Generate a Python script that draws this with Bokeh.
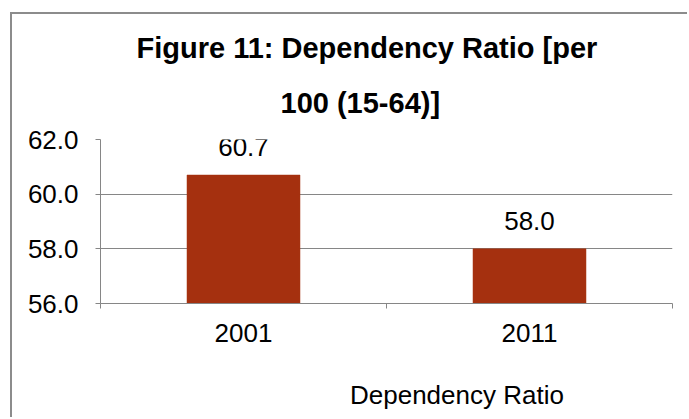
from bokeh.plotting import figure
from bokeh.layouts import column
from bokeh.models import (Range1d, FixedTicker, Legend, LegendItem, Title,
                          ColumnDataSource)
from bokeh.core.properties import value
from bokeh.embed import file_html
from bokeh.resources import INLINE

years = ["2001", "2011"]
ratio = [60.7, 58.0]
y_ticks = [56.0, 58.0, 60.0, 62.0]
series_name = "Dependency Ratio"
title_lines = ["Figure 11: Dependency Ratio [per", "100 (15-64)]"]

FONT = "Liberation Sans"
BAR = "#A5300F"
GRID = "#868686"
TXT = "26px"

centers = [i + 0.5 for i in range(len(years))]
src = ColumnDataSource(dict(x=centers, top=ratio,
                            label=["%.1f" % v for v in ratio]))

# main chart
p = figure(frame_width=572, frame_height=164, output_backend="svg",
           toolbar_location=None,
           x_range=Range1d(0, len(years)), y_range=Range1d(y_ticks[0], y_ticks[-1]),
           min_border_left=88, min_border_right=15, min_border_top=125,
           min_border_bottom=70)
p.outline_line_color = None
p.background_fill_color = "white"
p.border_fill_color = "white"

bars = p.vbar(x="x", top="top", bottom=y_ticks[0], width=0.395, source=src,
              fill_color=BAR, line_color=BAR, line_width=0.5)
p.text(x="x", y="top", text="label", source=src, text_align="center",
       text_baseline="alphabetic", y_offset=-28, text_font_size=TXT,
       text_color="#000000", text_font=value(FONT))

# y axis and grid
p.yaxis.ticker = FixedTicker(ticks=y_ticks, minor_ticks=[])
p.yaxis.major_label_overrides = {t: "%.1f" % t for t in y_ticks}
p.yaxis.axis_line_color = GRID
p.yaxis.major_tick_line_color = GRID
p.yaxis.major_tick_out = 5
p.yaxis.major_tick_in = 0
p.yaxis.minor_tick_line_color = None
p.yaxis.major_label_text_font = FONT
p.yaxis.major_label_text_font_size = TXT
p.yaxis.major_label_text_color = "#000000"
p.yaxis.major_label_standoff = 17
p.ygrid.ticker = FixedTicker(ticks=y_ticks)
p.ygrid.grid_line_color = GRID
p.xgrid.grid_line_color = None

# x axis: labels at category centres, ticks at category boundaries
p.xaxis.ticker = FixedTicker(ticks=centers,
                             minor_ticks=list(range(len(years) + 1)))
p.xaxis.major_label_overrides = {c: y for c, y in zip(centers, years)}
p.xaxis.axis_line_color = GRID
p.xaxis.major_tick_line_color = None
p.xaxis.major_tick_out = 0
p.xaxis.major_tick_in = 0
p.xaxis.minor_tick_line_color = GRID
p.xaxis.minor_tick_out = 5
p.xaxis.minor_tick_in = 0
p.xaxis.major_label_text_font = FONT
p.xaxis.major_label_text_font_size = TXT
p.xaxis.major_label_text_color = "#000000"
p.xaxis.major_label_standoff = 15

# two-line title; the line nearest the frame goes in first
title_offsets = [36, 180]
title_standoffs = [0, 42]
for line, off, so in reversed(list(zip(title_lines, title_offsets, title_standoffs))):
    p.add_layout(Title(text=line, align="left", offset=off, standoff=so,
                       text_font=FONT, text_font_size="29px",
                       text_font_style="bold", text_color="#000000"), "above")

# legend strip under the chart
lg = figure(width=675, height=44, output_backend="svg", toolbar_location=None,
            x_axis_type=None, y_axis_type=None, min_border=0)
lg.outline_line_color = None
lg.background_fill_color = "white"
lg.border_fill_color = "white"
swatch = lg.vbar(x=[], top=[], width=0.4, fill_color=BAR, line_color=BAR)
legend = Legend(items=[LegendItem(label=series_name, renderers=[swatch])],
                location=(229, 6), orientation="horizontal",
                padding=0, margin=0, border_line_color=None,
                background_fill_alpha=0, glyph_width=14, glyph_height=14,
                label_standoff=7, label_text_font=FONT,
                label_text_font_size=TXT, label_text_color="#000000")
lg.add_layout(legend, "center")

chart = column(p, lg, spacing=0)
chart.styles = {"margin-left": "10px", "margin-top": "12px",
                "border-left": "2px solid #8C8C8C",
                "border-top": "2px solid #8C8C8C"}

open("out.html", "w").write(file_html(chart, INLINE))
